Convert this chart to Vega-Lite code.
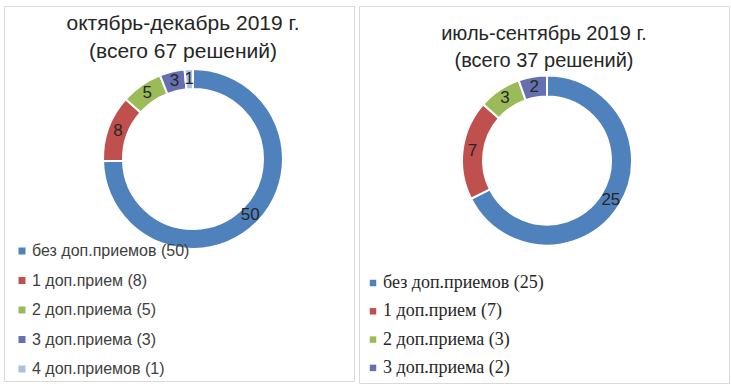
{
  "$schema": "https://vega.github.io/schema/vega-lite/v6.json",
  "padding": {"left": 3, "top": 5, "right": 4, "bottom": 4},
  "spacing": 3,
  "background": "white",
  "config": {"view": {"stroke": "#d9d9d9", "strokeWidth": 1}, "legend": {"padding": 0}},
  "resolve": {"scale": {"color": "independent"}, "legend": {"color": "independent"}},
  "hconcat": [
    {
      "width": 350,
      "height": 375,
      "view": {"stroke": "#d9d9d9", "strokeWidth": 1, "fill": "white"},
      "title": {"text": ["октябрь-декабрь 2019 г.", "(всего 67 решений)"], "offset": -56, "dx": 4, "font": "Liberation Sans", "fontSize": 21, "fontWeight": "normal", "color": "#262626", "anchor": "middle", "lineHeight": 28},
      "data": {"values": [
        {"i": 1, "n": 50, "label": "без доп.приемов (50)"},
        {"i": 2, "n": 8, "label": "1 доп.прием (8)"},
        {"i": 3, "n": 5, "label": "2 доп.приема (5)"},
        {"i": 4, "n": 3, "label": "3 доп.приема (3)"},
        {"i": 5, "n": 1, "label": "4 доп.приемов (1)"}
      ]},
      "layer": [
        {
          "mark": {"type": "arc", "x": 189, "y": 153, "outerRadius": 90, "innerRadius": 70, "stroke": "white", "strokeWidth": 2},
          "encoding": {
            "theta": {"field": "n", "type": "quantitative", "stack": true},
            "order": {"field": "i", "type": "quantitative"},
            "color": {"field": "label", "type": "nominal",
              "scale": {"domain": ["без доп.приемов (50)", "1 доп.прием (8)", "2 доп.приема (5)", "3 доп.приема (3)", "4 доп.приемов (1)"], "range": ["#4F81BD", "#C0504D", "#9BBB59", "#6670B0", "#A9C0DC"]},
              "legend": {"orient": "none", "legendX": 10, "legendY": 237, "title": null, "symbolType": "square", "symbolSize": 49, "symbolStrokeWidth": 0, "labelFont": "Liberation Sans", "labelFontSize": 16, "labelColor": "#404040", "labelLimit": 0, "labelOffset": 2, "rowPadding": 13.5}
            }
          }
        },
        {
          "mark": {"type": "text", "x": 189, "y": 153, "radius": 80, "font": "Liberation Sans", "fontSize": 17, "color": "#262626"},
          "encoding": {
            "theta": {"field": "n", "type": "quantitative", "stack": true},
            "order": {"field": "i", "type": "quantitative"},
            "text": {"field": "n", "type": "quantitative"}
          }
        }
      ]
    },
    {
      "width": 370,
      "height": 377,
      "view": {"stroke": "#d9d9d9", "strokeWidth": 1, "fill": "white"},
      "title": {"text": ["июль-сентябрь 2019 г.", "(всего 37 решений)"], "offset": -65, "font": "Liberation Sans", "fontSize": 20, "fontWeight": "normal", "color": "#262626", "anchor": "middle", "lineHeight": 27},
      "data": {"values": [
        {"i": 1, "n": 25, "label": "без доп.приемов (25)"},
        {"i": 2, "n": 7, "label": "1 доп.прием (7)"},
        {"i": 3, "n": 3, "label": "2 доп.приема (3)"},
        {"i": 4, "n": 2, "label": "3 доп.приема (2)"}
      ]},
      "layer": [
        {
          "mark": {"type": "arc", "x": 188, "y": 154.5, "outerRadius": 85, "innerRadius": 64, "stroke": "white", "strokeWidth": 2},
          "encoding": {
            "theta": {"field": "n", "type": "quantitative", "stack": true},
            "order": {"field": "i", "type": "quantitative"},
            "color": {"field": "label", "type": "nominal",
              "scale": {"domain": ["без доп.приемов (25)", "1 доп.прием (7)", "2 доп.приема (3)", "3 доп.приема (2)"], "range": ["#4F81BD", "#C0504D", "#9BBB59", "#6670B0"]},
              "legend": {"orient": "none", "legendX": 5, "legendY": 268, "title": null, "symbolType": "square", "symbolSize": 42, "symbolStrokeWidth": 0, "labelFont": "Liberation Serif, Times New Roman, serif", "labelFontSize": 18, "labelColor": "#262626", "labelLimit": 0, "labelOffset": 1, "rowPadding": 10.3}
            }
          }
        },
        {
          "mark": {"type": "text", "x": 188, "y": 154.5, "radius": 75, "font": "Liberation Sans", "fontSize": 17, "color": "#262626"},
          "encoding": {
            "theta": {"field": "n", "type": "quantitative", "stack": true},
            "order": {"field": "i", "type": "quantitative"},
            "text": {"field": "n", "type": "quantitative"}
          }
        }
      ]
    }
  ]
}
